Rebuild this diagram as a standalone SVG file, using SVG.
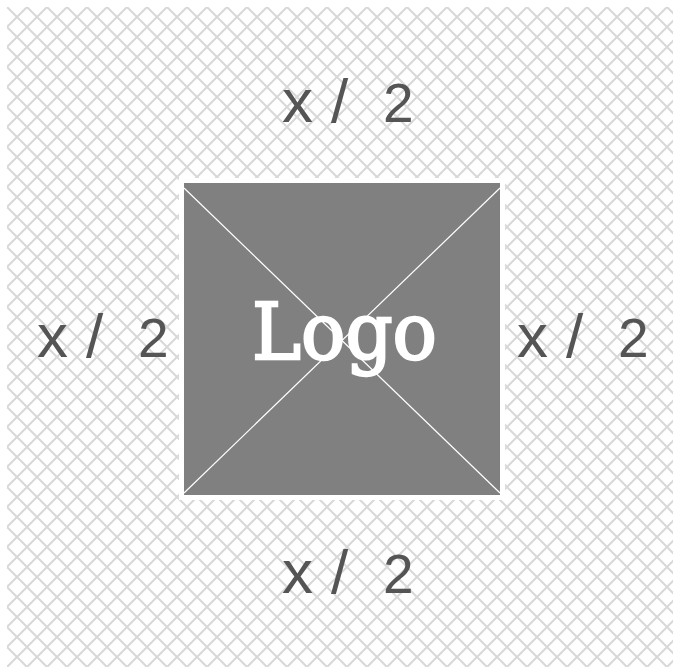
<svg xmlns="http://www.w3.org/2000/svg" width="673" height="667" viewBox="0 0 673 667">
  <defs>
    <pattern id="hatch" patternUnits="userSpaceOnUse" x="7" y="7" width="20" height="20">
      <path d="M0,0 L20,20 M20,0 L0,20 M-1,19 L1,21 M19,-1 L21,1" stroke="#d8d8d8" stroke-width="2" fill="none"/>
    </pattern>
  </defs>
  <style>
    .lbl { font-family: "Liberation Sans", Arial, sans-serif; fill: #555555; font-size: 55px; }
    .big { font-size: 62px; }
    .sl { font-size: 62px; }
    .logo { font-family: "DejaVu Serif", "Liberation Serif", serif; fill: #ffffff; stroke: #ffffff; stroke-width: 2.4; font-size: 78px; }
  </style>
  <rect x="0" y="0" width="673" height="667" fill="#ffffff"/>
  <rect x="7" y="7" width="666" height="660" fill="url(#hatch)"/>
  <g id="logo-box">
    <rect x="179" y="178" width="326" height="322" fill="#ffffff"/>
    <rect x="184" y="183" width="316" height="312" fill="#808080"/>
    <line x1="184" y1="188" x2="500" y2="493" stroke="#ffffff" stroke-width="1.2"/>
    <line x1="500" y1="188" x2="184" y2="493" stroke="#ffffff" stroke-width="1.2"/>
    <text class="logo" x="252" y="359" textLength="185" lengthAdjust="spacingAndGlyphs">Logo</text>
  </g>
  <g id="label-top">
    <text class="lbl" y="122"><tspan class="big" x="282">x</tspan> <tspan class="sl" x="331">/</tspan> <tspan x="383">2</tspan></text>
  </g>
  <g id="label-left">
    <text class="lbl" y="357"><tspan class="big" x="37">x</tspan> <tspan class="sl" x="86">/</tspan> <tspan x="138">2</tspan></text>
  </g>
  <g id="label-right">
    <text class="lbl" y="357"><tspan class="big" x="517">x</tspan> <tspan class="sl" x="566">/</tspan> <tspan x="618">2</tspan></text>
  </g>
  <g id="label-bottom">
    <text class="lbl" y="593"><tspan class="big" x="282">x</tspan> <tspan class="sl" x="331">/</tspan> <tspan x="383">2</tspan></text>
  </g>
</svg>
